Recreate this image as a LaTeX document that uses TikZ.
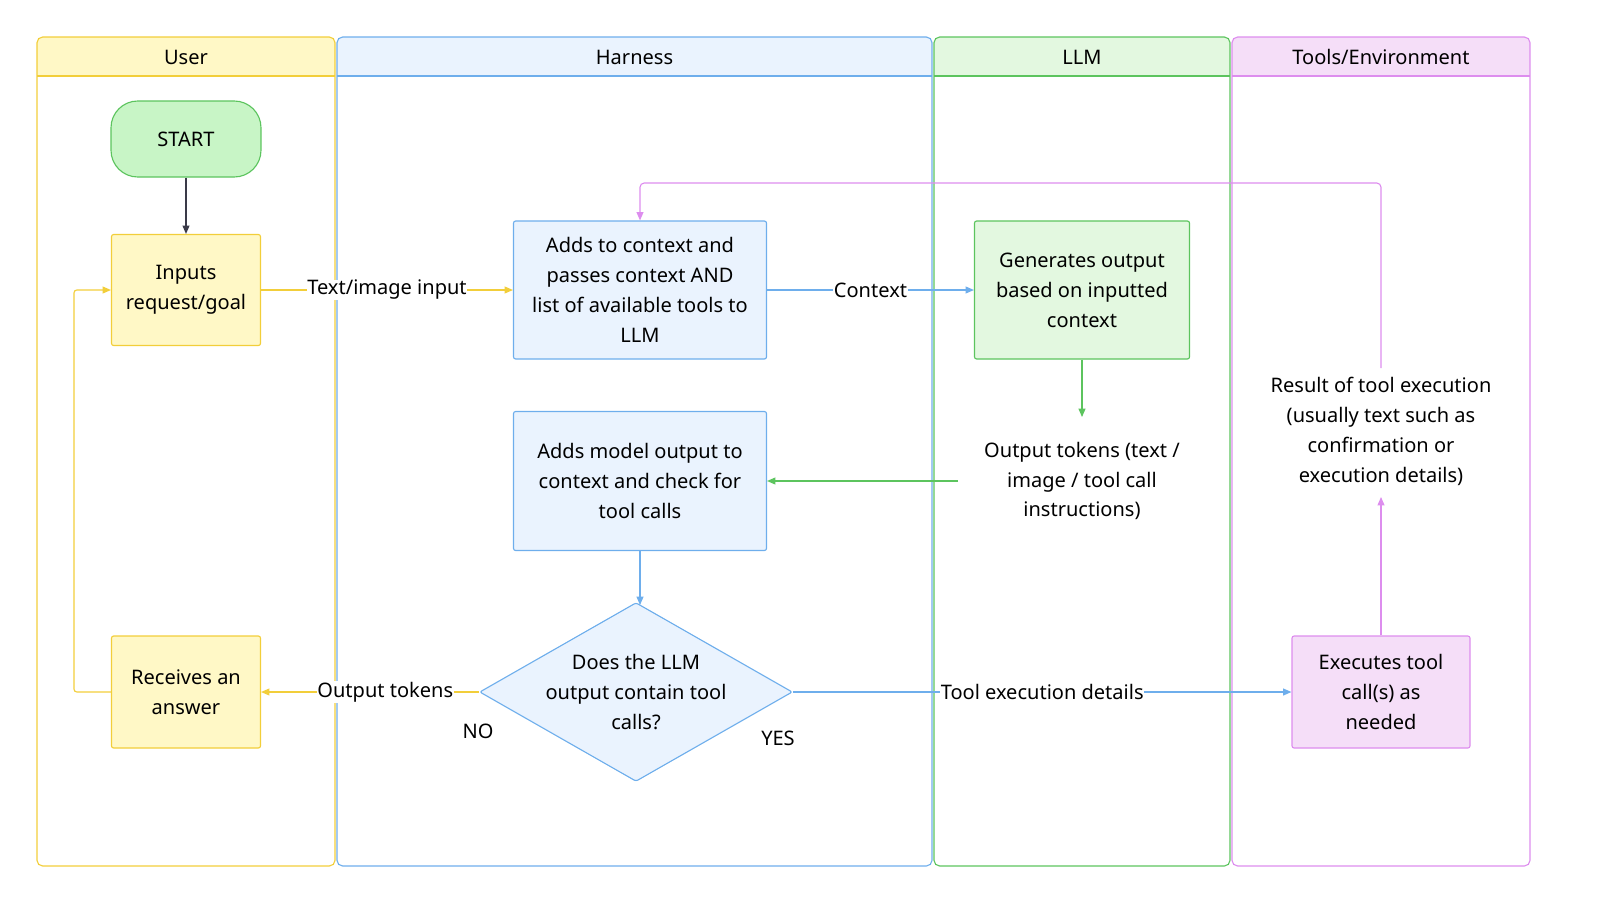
\documentclass[tikz,border=0pt]{standalone}
\usepackage{fontspec}
\setmainfont{Noto Sans}
\usetikzlibrary{shapes.geometric,arrows.meta}
\definecolor{uyb}{HTML}{F2CE3A}\definecolor{uyf}{HTML}{FFF8C6}
\definecolor{hbb}{HTML}{6EAEEC}\definecolor{hbf}{HTML}{EAF3FE}
\definecolor{lgb}{HTML}{5CC45E}\definecolor{lgf}{HTML}{E3F8E0}\definecolor{stf}{HTML}{C8F5C6}
\definecolor{tvb}{HTML}{DD8DEE}\definecolor{tvf}{HTML}{F5DEF8}
\definecolor{dk}{HTML}{3A3A48}
\tikzset{
 every node/.style={font=\fontsize{28.5}{42.6}\selectfont, text=black},
 box/.style={draw, line width=1.6pt, rounded corners=3pt, align=center, inner sep=0pt},
 lane/.style={draw, line width=1.6pt, rounded corners=8pt},
 conn/.style={line width=1.6pt, -{Triangle[length=12pt,width=10pt]}},
 lbl/.style={fill=white, inner sep=1pt},
}
\begin{document}
\begin{tikzpicture}[x=0.05cm,y=-0.05cm]
\useasboundingbox (0,0) rectangle (1600,923);
\foreach \a/\b/\c/\f/\t in {37/335/uyb/uyf/User,337/932/hbb/hbf/Harness,934/1230/lgb/lgf/LLM,1232/1530/tvb/tvf/Tools\slash Environment}{
 \begin{scope}
 \clip[rounded corners=8pt] (\a,37) rectangle (\b,866);
 \fill[\f] (\a,37) rectangle (\b,76);
 \end{scope}
 \draw[lane,\c] (\a,37) rectangle (\b,866);
 \draw[\c,line width=1.6pt] (\a,76) -- (\b,76);
 \node at ({(\a+\b)/2},57) {\t};
}
\node[box,draw=lgb,fill=stf,rounded corners=38pt,minimum width=7.5cm,minimum height=3.8cm] (start) at (186,139) {START};
\node[box,draw=uyb,fill=uyf,minimum width=7.45cm,minimum height=5.55cm] (inp) at (186,290) {Inputs\\request/goal};
\node[box,draw=hbb,fill=hbf,minimum width=12.65cm,minimum height=6.9cm] (ctx) at (640,290) {Adds to context and\\passes context AND\\list of available tools to\\LLM};
\node[box,draw=lgb,fill=lgf,minimum width=10.75cm,minimum height=6.9cm] (gen) at (1082,290) {Generates output\\based on inputted\\context};
\node[align=center,inner sep=0pt] (otok) at (1082,481) {Output tokens (text /\\image / tool call\\instructions)};
\node[box,draw=hbb,fill=hbf,minimum width=12.65cm,minimum height=6.95cm] (mod) at (640,481) {Adds model output to\\context and check for\\tool calls};
\node[draw=hbb,fill=hbf,line width=1.6pt,diamond,aspect=1.75,minimum width=15.2cm,minimum height=8.7cm,inner sep=0pt,align=center,rounded corners=3pt] (dia) at (636,692) {Does the LLM\\output contain tool\\calls?};
\node[box,draw=uyb,fill=uyf,minimum width=7.45cm,minimum height=5.6cm] (rec) at (186,692) {Receives an\\answer};
\node[box,draw=tvb,fill=tvf,minimum width=8.9cm,minimum height=5.6cm] (exe) at (1381,692) {Executes tool\\call(s) as\\needed};
\node[align=center,inner sep=0pt] (res) at (1381,431) {Result of tool execution\\(usually text such as\\confirmation or\\execution details)};
\node (no) at (478,731) {NO};
\node (yes) at (778,738) {YES};
\draw[conn,dk] (start) -- (inp);
\draw[conn,uyb] (inp) -- node[lbl]{Text/image input} (ctx);
\draw[conn,hbb] (ctx) -- node[lbl,pos=0.5]{Context} (gen);
\draw[conn,lgb] (gen.south) -- (1082,417);
\draw[conn,lgb] (958,481) -- (mod.east);
\draw[conn,hbb] (mod.south) -- (640,605);
\draw[conn,uyb] (dia.west) -- node[lbl,pos=0.43]{Output tokens} (rec.east);
\draw[conn,hbb] (dia.east) -- node[lbl,pos=0.5]{Tool execution details} (exe.west);
\draw[conn,uyb,rounded corners=4pt] (rec.west) -- (74,692) -- (74,290) -- (inp.west);
\draw[conn,tvb] (exe.north) -- (1381,497);
\draw[conn,tvb,rounded corners=6pt] (1381,368) -- (1381,183) -- (640,183) -- (ctx.north);
\end{tikzpicture}
\end{document}
